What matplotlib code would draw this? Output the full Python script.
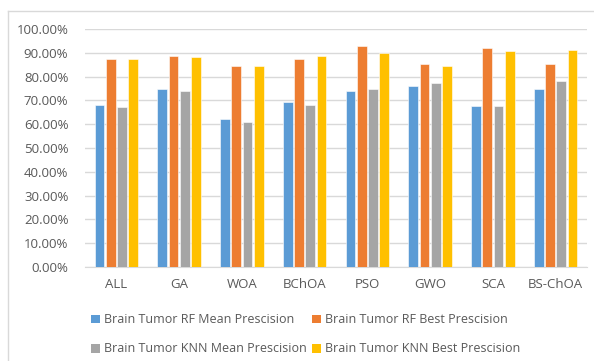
import matplotlib.pyplot as plt
import numpy as np
from matplotlib.patches import Patch
from matplotlib.lines import Line2D

categories = ['ALL', 'GA', 'WOA', 'BChOA', 'PSO', 'GWO', 'SCA', 'BS-ChOA']
rf_mean = [68.2, 75.0, 62.1, 69.3, 74.1, 76.1, 67.7, 75.0]
rf_best = [87.6, 88.7, 84.5, 87.6, 92.9, 85.5, 92.2, 85.5]
knn_mean = [67.2, 74.1, 60.9, 68.2, 75.0, 77.2, 67.7, 78.3]
knn_best = [87.6, 88.1, 84.5, 88.7, 89.8, 84.5, 90.8, 91.3]

series = [
    ('Brain Tumor RF Mean Prescision', rf_mean, '#5b9bd5'),
    ('Brain Tumor RF Best Prescision', rf_best, '#ed7d31'),
    ('Brain Tumor KNN Mean Prescision', knn_mean, '#a5a5a5'),
    ('Brain Tumor KNN Best Prescision', knn_best, '#ffc000'),
]

plt.rcParams['font.family'] = ['Open Sans', 'DejaVu Sans']

fig = plt.figure(figsize=(5.94, 3.61), dpi=100)
# outer chart frame (left and top edges visible)
fig.add_artist(Line2D([8/594, 8/594], [0, 1 - 11/361], color='#d9d9d9', lw=1))
fig.add_artist(Line2D([8/594, 1], [1 - 11/361, 1 - 11/361], color='#d9d9d9', lw=1))

ax = fig.add_axes([85/594, 1 - 267/361, 502/594, 238/361])

x = np.arange(len(categories))
w = 0.155
step = 0.18
for i, (name, vals, col) in enumerate(series):
    ax.bar(x + (i - 1.5) * step, vals, width=w, color=col, edgecolor='white',
           linewidth=0.4, label=name, zorder=3)

ax.set_xlim(-0.5, len(categories) - 0.5)
ax.set_ylim(0, 100)
ax.set_yticks(np.arange(0, 101, 10))
ax.set_yticklabels([f'{v:.2f}%' for v in range(0, 101, 10)])
ax.set_xticks(x)
ax.set_xticklabels(categories)
ax.grid(axis='y', color='#d9d9d9', lw=1, zorder=0)
for s in ['top', 'right', 'left']:
    ax.spines[s].set_visible(False)
ax.spines['bottom'].set_color('#d9d9d9')
ax.tick_params(axis='both', length=0, colors='#595959', labelsize=9.5)
ax.tick_params(axis='y', pad=12)
ax.tick_params(axis='x', pad=8)

# legend fills column-wise, so order handles to read row by row
order = [0, 2, 1, 3]
handles = [Patch(facecolor=series[k][2], edgecolor='none') for k in order]
labels = [series[k][0] for k in order]
fig.legend(handles, labels, ncol=2, loc='upper left', bbox_to_anchor=(80/594, 1 - 302/361),
           frameon=False, fontsize=9, labelcolor='#595959', handlelength=0.7,
           handleheight=0.7, handletextpad=0.3, columnspacing=0.45, labelspacing=1.3)

fig.savefig('out.png', dpi=100)
